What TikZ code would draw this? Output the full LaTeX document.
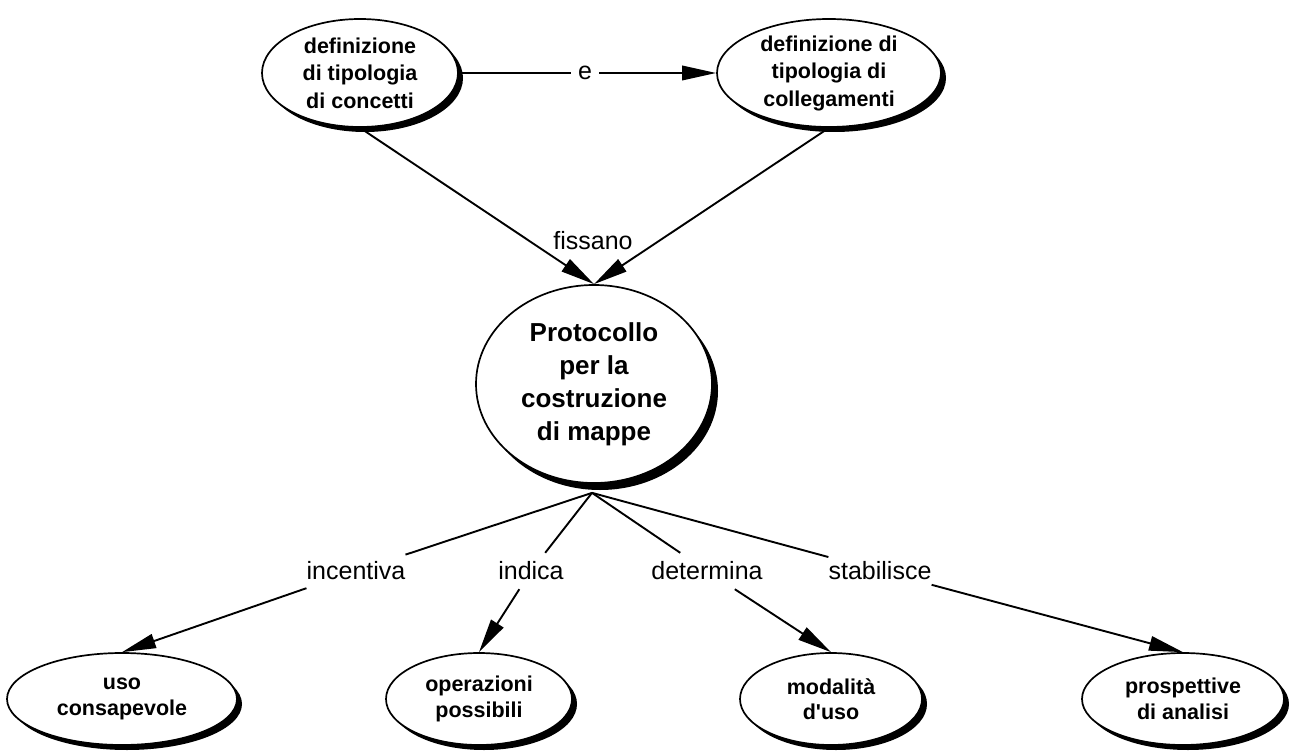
\documentclass[tikz,border=0pt]{standalone}
\usepackage{fontspec}
\setmainfont{Liberation Sans}
\usetikzlibrary{shapes.geometric,arrows.meta,shadows}
\begin{document}
\begin{tikzpicture}[x=1pt,y=-1pt,
  concept/.style={ellipse, draw, line width=1.7pt, fill=white, inner sep=0pt,
    general shadow={fill=black, shadow xshift=5pt, shadow yshift=-5pt}},
  bigconcept/.style={ellipse, draw, line width=1.7pt, fill=white, inner sep=0pt,
    general shadow={fill=black, shadow xshift=6pt, shadow yshift=-7pt}},
  ctext/.style={align=center, font=\fontsize{21.5}{27.5}\selectfont\bfseries, inner sep=0pt},
  btext/.style={align=center, font=\fontsize{21.5}{25.5}\selectfont\bfseries, inner sep=0pt},
  ptext/.style={align=center, font=\fontsize{26}{33}\selectfont\bfseries, inner sep=0pt},
  link/.style={font=\fontsize{25}{30}\selectfont, inner sep=0pt, minimum height=36pt},
  conn/.style={line width=1.9pt},
  arr/.style={conn, -{Triangle[length=34pt,width=14.5pt]}}]
\useasboundingbox (0,0) rectangle (1292,751);
% concepts
\node[concept, minimum width=196pt, minimum height=108pt,
  label={[ctext]center:{definizione\\di tipologia\\di concetti}}] (tl) at (360,73) {};
\node[concept, minimum width=224pt, minimum height=108pt,
  label={[ctext]center:{definizione di\\tipologia di\\collegamenti}}] (tr) at (829,73) {};
\node[bigconcept, minimum width=236pt, minimum height=198pt,
  label={[ptext]center:{Protocollo\\per la\\costruzione\\di mappe}}] (pc) at (594,384) {};
\node[concept, minimum width=230pt, minimum height=92pt,
  label={[btext]center:{uso\\consapevole}}] (uso) at (122,699) {};
\node[concept, minimum width=186pt, minimum height=92pt,
  label={[btext]center:{operazioni\\possibili}}] (op) at (479,699) {};
\node[concept, minimum width=182pt, minimum height=92pt,
  label={[btext]center:{modalità\\d\textquotesingle uso}}] (mod) at (831,699) {};
\node[concept, minimum width=202pt, minimum height=92pt,
  label={[btext]center:{prospettive\\di analisi}}] (pro) at (1183,699) {};
% linking phrases
\node[link, inner xsep=7pt] (e) at (585,73) {e};
\node[link] (fis) at (593,241) {fissano};
\node[link] (inc) at (356,571) {incentiva};
\node[link] (ind) at (531,571) {indica};
\node[link] (det) at (707,571) {determina};
\node[link] (sta) at (880,571) {stabilisce};
\coordinate (hub) at ([xshift=-2pt,yshift=-9pt]pc.south);
% connectors
\draw[conn] (tl) -- (e);
\draw[arr] (e) -- (tr);
\draw[arr] (tl.south) -- (pc.north);
\draw[arr] (tr.south) -- (pc.north);
\draw[conn] (hub) -- (inc);
\draw[conn] (hub) -- (ind);
\draw[conn] (hub) -- (det);
\draw[conn] (hub) -- (sta);
\draw[arr] (inc) -- (uso.north);
\draw[arr] (ind) -- (op.north);
\draw[arr] (det) -- (mod.north);
\draw[arr] (sta) -- (pro.north);
\end{tikzpicture}
\end{document}
